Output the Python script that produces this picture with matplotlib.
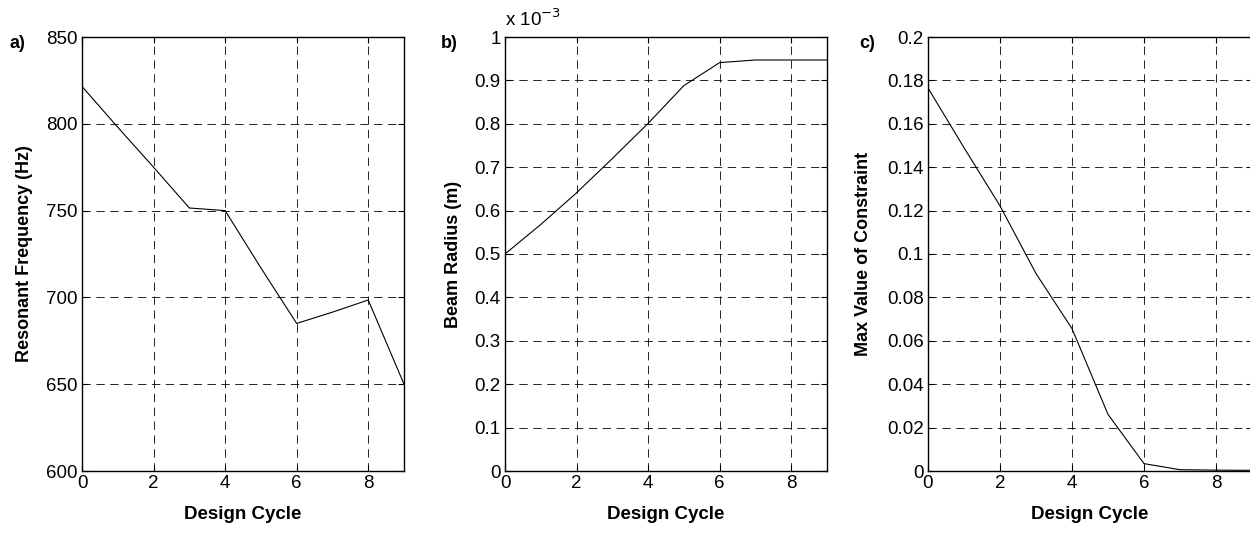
import matplotlib
matplotlib.use('Agg')
import matplotlib.pyplot as plt

plt.rcParams['font.family'] = ['Liberation Sans', 'DejaVu Sans']
plt.rcParams['lines.scale_dashes'] = False

# design cycles
cycles = [0, 1, 2, 3, 4, 5, 6, 7, 8, 9]

# a) resonant frequency (Hz)
freq = [821.5, 798, 775, 751.5, 750, 717, 685, 691.5, 698.5, 650]

# b) beam radius, in units of 1e-3 m
radius = [0.50, 0.568, 0.641, 0.72, 0.801, 0.888, 0.941, 0.947, 0.947, 0.947]

# c) max value of constraint
constraint = [0.1765, 0.149, 0.1222, 0.091, 0.0656, 0.0261, 0.0034, 0.0006, 0.0004, 0.0003]

xticks = [0, 2, 4, 6, 8]

fig = plt.figure(figsize=(12.5, 5.5), dpi=100)

panels = [
    # left, width, data, ylim, yticks, ylabel, label coord, panel tag, tag x
    (82, 322, freq, (600, 850), [600, 650, 700, 750, 800, 850],
     'Resonant Frequency (Hz)', -0.152, 'a)', 10),
    (505, 322, radius, (0, 1), [0, 0.1, 0.2, 0.3, 0.4, 0.5, 0.6, 0.7, 0.8, 0.9, 1],
     'Beam Radius (m)', -0.134, 'b)', 441),
    (928, 324, constraint, (0, 0.2), [0, 0.02, 0.04, 0.06, 0.08, 0.1, 0.12, 0.14, 0.16, 0.18, 0.2],
     'Max Value of Constraint', -0.173, 'c)', 859),
]

W, H = 1250, 550
top, bottom = 37, 471

for left, width, data, ylim, yticks, ylabel, lx, tag, tx in panels:
    ax = fig.add_axes([left / W, 1 - bottom / H, width / W, (bottom - top) / H])
    ax.plot(cycles, data, color='k', lw=0.8)
    ax.set_xlim(0, 9)
    ax.set_ylim(*ylim)
    ax.set_xticks(xticks)
    ax.set_yticks(yticks)
    ax.set_yticklabels(['%g' % t for t in yticks])
    ax.grid(True, color='k', lw=0.6, linestyle=(0, (6, 4)))
    ax.tick_params(direction='in', top=True, right=True, length=4, width=0.8,
                   labelsize=13.5, pad=3)
    for s in ax.spines.values():
        s.set_linewidth(1.0)
    ax.set_xlabel('Design Cycle', fontsize=13.5, fontweight='bold', labelpad=10)
    ax.set_ylabel(ylabel, fontsize=13, fontweight='bold')
    ax.yaxis.set_label_coords(lx, 0.5)
    fig.text(tx / W, 1 - 43 / H, tag, fontsize=13, fontweight='bold',
             ha='left', va='center')
    if tag == 'b)':
        ax.text(0.0, 1.015, r'x 10$^{-3}$', transform=ax.transAxes,
                fontsize=13.5, ha='left', va='bottom')

fig.savefig('out.png', dpi=100)
